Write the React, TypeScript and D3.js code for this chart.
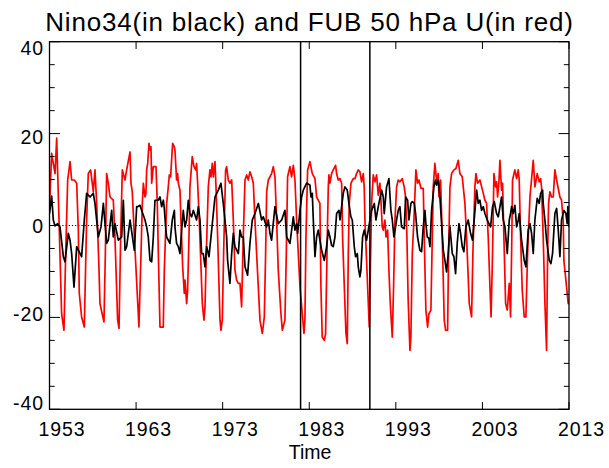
import React from "react";
import * as d3 from "d3";

// ---------- data ----------
const title = "Nino34(in black) and FUB 50 hPa U(in red)";
const xLabel = "Time";
const xTickYears = [1953, 1963, 1973, 1983, 1993, 2003, 2013];
const yMajorTicks = [-40, -20, 0, 20, 40];
const yMinorTicks = [-35, -30, -25, -15, -10, -5, 5, 10, 15, 25, 30, 35];
const markerYears = [1982, 1990];

// FUB 50 hPa zonal wind (red): [year, m/s]
const fubU_1953: [number, number][] = [
  [1953.0, 4.1], [1953.25, 15.7], [1953.44, 13.5], [1953.64, 11.3], [1953.83, 19.0], [1954.1, 1.2],
  [1954.4, -19.2], [1954.67, -22.8], [1954.87, -6.1], [1955.1, 9.9], [1955.37, 13.9], [1955.56, 9.9],
  [1955.87, 9.9], [1956.14, 9.2], [1956.33, -1], [1956.44, -14.8], [1956.71, -19.9], [1957.02, -22.1],
  [1957.29, 1.2], [1957.48, 11.3], [1957.75, 12.1], [1958.06, 7.3], [1958.25, 12.1], [1958.45, 4.8],
  [1958.72, -9.7], [1958.83, -17], [1959.29, -21], [1959.45, -6.1], [1959.6, 11.3], [1959.79, 9.2],
  [1959.99, 6.2], [1960.37, 5.5], [1960.56, -2.5], [1960.87, -20.6], [1961.03, -22.4], [1961.22, -2.5],
  [1961.41, 12.1], [1961.72, 9.9], [1961.91, 12.1], [1962.3, 16], [1962.41, 9.2], [1962.56, 7.3],
  [1962.87, -5],
];
const fubU_1963: [number, number][] = [
  [1963.33, -22.1], [1963.57, -6.1], [1963.72, 4.8], [1963.84, 9.2], [1964.03, 6.2], [1964.14, 7],
  [1964.22, 12.1], [1964.34, 13.5], [1964.49, 17.9], [1964.61, 16.4], [1964.72, 17.1], [1964.8, 9.2],
  [1964.99, 12.8], [1965.3, 12.8], [1965.45, 4.8], [1965.57, -6.1], [1965.76, -22.1], [1966.14, -22.1],
  [1966.26, -9.7], [1966.53, 4.8], [1966.72, 8.4], [1966.84, 11], [1966.99, 10.6], [1967.22, 17.9],
  [1967.42, 17.1], [1967.49, 16.4], [1967.68, 9.9], [1967.8, 11.3], [1967.88, 9.2], [1968.07, 7.7],
  [1968.18, 1.2], [1968.38, -9], [1968.57, -14.8], [1968.65, -11.9], [1968.84, -17], [1968.95, -14.1],
  [1969.11, -2.5], [1969.22, 8.4], [1969.49, 15], [1969.69, 12.8], [1969.88, 12.1], [1969.99, 13.5],
  [1970.11, 9.2], [1970.3, 1.2], [1970.65, -17], [1970.84, -20.6], [1970.96, -17.7], [1971.11, -6.1],
  [1971.34, 8.4], [1971.53, 12.1], [1971.65, 10.6], [1971.8, 13.5], [1971.92, 10.6], [1972.11, 13.9],
  [1972.23, 8.4], [1972.42, -2.5], [1972.69, -20.6], [1972.8, -22.8], [1972.96, -20.6], [1973.11, -6.1],
];
const fubU_1973: [number, number][] = [
  [1973.34, 12.1], [1973.46, 12.8], [1973.65, 9.9], [1973.84, 9.2], [1974.04, 9.9], [1974.23, 1.2],
  [1974.42, -9.7], [1974.61, -11.9], [1974.81, -12.6], [1975.0, -12.6], [1975.19, -17.7], [1975.38, -2.5],
  [1975.58, 9.9], [1975.77, 11], [1975.96, 9.9], [1976.15, 11.7], [1976.35, 10.6], [1976.54, 9.2],
  [1976.73, 1.2], [1976.92, -6.1], [1977.31, -20.6], [1977.58, -23.5], [1977.81, -19.9], [1977.96, -6.1],
  [1978.08, 7.3], [1978.27, 9.9], [1978.65, 11.3], [1978.85, 12.8], [1979.04, 10.6], [1979.23, 1.2],
  [1979.42, -9.7], [1979.73, -19.2], [1979.89, -22.8], [1980.19, -20.6], [1980.35, -6.1], [1980.5, 10.6],
  [1980.77, 12.8], [1980.96, 10.6], [1981.16, 13.1], [1981.35, 9.9], [1981.54, 1.2], [1981.93, -13.4],
  [1982.39, -23.5], [1982.5, -20.6], [1982.62, -2.5], [1982.81, 12.1], [1983.08, 13.9], [1983.35, 11.3],
];
const fubU_1983: [number, number][] = [
  [1983.66, 10.2], [1983.85, 6.2], [1984.04, 5.5], [1984.23, 4.8], [1984.35, -13.4], [1984.5, -24.3],
  [1984.74, -25], [1984.89, -23.5], [1985.12, 1.2], [1985.2, 8.4], [1985.27, 11], [1985.39, 9.2],
  [1985.58, 11.3], [1985.77, 12.1], [1986.04, 13.1], [1986.16, 11.3], [1986.35, 9.9], [1986.54, 10.2],
  [1986.74, 9.2], [1986.85, -2.5], [1987.05, -13.4], [1987.24, -23.5], [1987.39, -25.7], [1987.51, -6.1],
  [1987.62, 4.8], [1987.82, 9.2], [1988.08, 10.2], [1988.28, 10.2], [1988.47, 11.3], [1988.66, 12.1],
  [1988.85, 11.7], [1989.05, 9.5], [1989.24, 11.3], [1989.35, 8.4], [1989.43, 1.2], [1989.62, -7.6],
  [1989.93, -22.1], [1990.09, -6.1], [1990.2, 4.8], [1990.39, 11], [1990.59, 9.5], [1990.78, 11],
  [1990.97, 6.6], [1991.16, 9.2], [1991.28, 5.5], [1991.43, -0.3], [1991.55, -1], [1991.74, 1.2],
  [1991.86, -2.5], [1992.05, -1], [1992.2, -9.7], [1992.36, -17], [1992.59, -24.3], [1992.74, -13.4],
  [1992.9, 1.2], [1993.09, 8.4], [1993.28, 9.9], [1993.47, 9.5], [1993.74, 10.2], [1993.97, 8.4],
  [1994.13, 6.2], [1994.28, -2.5],
];
const fubU_1994: [number, number][] = [
  [1994.42, -16], [1994.63, -27.2], [1994.74, -24.3], [1994.9, -6.1], [1995.09, 1.2], [1995.32, 12.1],
  [1995.51, 9.2], [1995.67, 9.9], [1995.9, 8.1], [1996.17, 8.1], [1996.28, -2.5], [1996.47, -18.4],
  [1996.67, -22.1], [1996.82, -19.2], [1997.05, -18.4], [1997.21, -2.5], [1997.32, 8.4], [1997.51, 13.5],
  [1997.71, 9.9], [1997.9, 11.3], [1997.98, 6.2], [1998.17, 9.9], [1998.36, -2.5], [1998.59, -20.6],
  [1998.75, -22.8], [1998.98, -22.8], [1999.09, -6.1], [1999.25, 8.4], [1999.44, 11.3], [1999.71, 12.1],
  [1999.94, 12.4], [2000.21, 14.2], [2000.4, 11.3], [2000.67, 10.6], [2000.98, 4.8], [2001.17, -2.5],
  [2001.48, -17], [2001.75, -19.9], [2001.9, -6.1], [2002.13, 8.4], [2002.25, 11.3], [2002.44, 9.2],
  [2002.71, 9.9], [2003.1, 7], [2003.29, 5.5], [2003.48, 4.8], [2003.67, -2.5], [2003.87, -13.4],
  [2004.0, -19.9],
];
const fubU_2004: [number, number][] = [
  [2004.17, -6.1], [2004.33, 11.3], [2004.52, 8.4], [2004.64, 9.5], [2004.75, 6.2], [2004.9, 9.2],
  [2005.02, 14.2], [2005.21, 7.7], [2005.33, 9.2], [2005.48, -2.5], [2005.68, -17], [2005.87, -18.4],
  [2006.1, -12.6], [2006.25, -19.9], [2006.37, -6.1], [2006.48, 9.9], [2006.75, 12.1], [2006.95, 10.2],
  [2007.14, 12.1], [2007.25, 9.9], [2007.41, -2.5], [2007.6, -14.1], [2007.83, -19.9], [2008.02, -19.9],
  [2008.22, -6.1], [2008.49, 6.2], [2008.87, 14.2], [2009.06, 8.4], [2009.33, 11.3], [2009.56, 9.5],
  [2009.72, 10.2], [2009.83, 8.4], [2010.02, -2.5], [2010.22, -17], [2010.41, -27.2], [2010.53, -6.1],
  [2010.64, 4.8], [2010.79, 7.3], [2010.99, 6.2], [2011.18, 6.2], [2011.37, 12.1], [2011.57, 9.9],
  [2011.95, 6.2], [2012.14, 5.5], [2012.33, 1.2], [2012.41, -7.6], [2012.64, -11.9], [2012.91, -17],
  [2013.0, -16.5],
];

// Nino34 index, scaled (black): [year, value]
const nino_1953: [number, number][] = [
  [1953.0, 2.6], [1953.25, 6.4], [1953.44, 1.2], [1953.64, -0.1], [1953.94, 0.4], [1954.21, -0.3],
  [1954.6, -6.8], [1954.79, -7.9], [1955.17, -1.7], [1955.37, -3.2], [1955.56, -6.1], [1955.83, -13.4],
  [1956.14, -4.6], [1956.71, -6.8], [1957.02, 1.2], [1957.29, 7], [1957.68, 6.2], [1958.06, 7],
  [1958.25, 4.8], [1958.64, -2.5], [1958.95, -0.3], [1959.22, 4.8], [1959.6, -3.9], [1959.79, -3.2],
  [1960.18, 3.3], [1960.37, -2.5], [1960.56, 0.4], [1960.95, -3.2], [1961.33, -2.5], [1961.53, 5.5],
  [1961.72, -5.4], [1961.91, -4.6], [1962.3, 1.2], [1962.8, -5.4], [1963.07, 4.1],
];
const nino_1963: [number, number][] = [
  [1963.18, 4.1], [1963.45, 4.4], [1963.64, 3.3], [1964.03, 1.2], [1964.22, -0.3], [1964.41, -2.5],
  [1964.61, -7.6], [1964.8, -7.9], [1964.99, -2.5], [1965.18, 5.5], [1965.57, 5.5], [1965.76, 6.2],
  [1965.95, 4.1], [1966.15, 5.5], [1966.26, 3.7], [1966.41, -0.3], [1966.53, -2.5], [1966.91, -3.9],
  [1967.18, 1.2], [1967.42, 3.3], [1967.49, -0.3], [1967.68, -3.9], [1967.88, -4.6], [1968.07, -6.1],
  [1968.26, -1], [1968.45, 3.3], [1968.65, -0.3], [1968.84, 1.2], [1969.03, 5.5], [1969.22, 2.6],
  [1969.42, 1.9], [1969.61, 3.3], [1969.99, 1.2], [1970.19, 4.1], [1970.38, 1.2], [1970.57, -6.1],
  [1970.76, -6.1], [1970.96, -9], [1971.15, -4.6], [1971.42, -6.8], [1971.73, -1], [1972.11, 6.2],
  [1972.5, 7.7], [1972.8, 9.2], [1973.07, 4.8],
];
const nino_1973: [number, number][] = [
  [1973.46, -2.5], [1973.57, -7.6], [1973.84, -12.6], [1974.04, -6.1], [1974.23, -1.7], [1974.42, -4.6],
  [1974.81, -6.1], [1975.0, -1], [1975.19, -2.5], [1975.38, -2.5], [1975.58, -9], [1975.88, -10.8],
  [1976.15, -3.9], [1976.42, 1.2], [1976.73, 2.6], [1977.12, 4.8], [1977.5, 1.2], [1977.69, 1.9],
  [1978.08, -0.3], [1978.27, 1.2], [1978.46, -1.7], [1978.65, -3.2], [1979.04, 4.1], [1979.42, 0.4],
  [1979.81, 1.2], [1980.19, 3.3], [1980.39, -2.5], [1980.77, -3.9], [1981.16, 1.9], [1981.35, -1],
  [1981.54, 0.4], [1981.66, -1.7], [1981.93, 3.3], [1982.12, 6.2], [1982.31, 7.7], [1982.7, 9.2],
  [1983.08, 8.8], [1983.2, 6.2], [1983.35, 7], [1983.47, 1.2],
];
const nino_1983: [number, number][] = [
  [1983.66, -6.8], [1983.85, -2.5], [1984.04, -1], [1984.43, -5.4], [1984.74, -7.6], [1985.0, -4.6],
  [1985.2, -1], [1985.39, -2.5], [1985.58, -4.3], [1985.77, -4.6], [1985.97, -2.5], [1986.16, 2.6],
  [1986.43, 3.3], [1986.55, 1.2], [1986.74, 4.1], [1986.93, 7], [1987.12, 8.4], [1987.39, 7.7],
  [1987.58, 4.8], [1987.81, 1.9], [1987.97, 1.2], [1988.2, -4.6], [1988.35, -6.8], [1988.55, -6.1],
  [1988.66, -9], [1988.85, -11.2], [1988.97, -9.7], [1989.16, -2.5], [1989.35, -1], [1989.62, -3.2],
  [1989.82, -1], [1990.01, 1.2], [1990.2, 3.3], [1990.51, 4.8], [1990.7, 1.2], [1990.97, 4.1],
  [1991.36, 7.7], [1991.55, 6.2], [1991.66, 2.6], [1991.93, 8.4], [1992.2, 10.2], [1992.43, 3.3],
  [1992.59, 1.2], [1992.78, -2.5], [1993.09, 1.2], [1993.28, 3.3], [1993.47, 4.1], [1993.66, -0.3],
  [1993.97, -0.7], [1994.13, 6.2], [1994.36, 5.5],
];
const nino_1994: [number, number][] = [
  [1994.51, 1.2], [1994.74, 4.8], [1994.9, 5.2], [1995.13, 4.8], [1995.28, 2.6], [1995.51, -2.5],
  [1995.78, -5.4], [1995.97, -5.7], [1996.17, -0.3], [1996.36, 3.3], [1996.47, 0.4], [1996.63, -2.5],
  [1996.82, -2.8], [1996.94, -4.6], [1997.13, 3.3], [1997.4, 8.4], [1997.59, 9.9], [1997.71, 8.8],
  [1997.9, 9.9], [1998.09, 6.2], [1998.48, -5.4], [1998.67, -7.6], [1998.86, -10.1], [1999.05, -6.1],
  [1999.25, -0.3], [1999.52, -6.1], [1999.71, -6.8], [1999.9, -10.5], [2000.09, -3.9], [2000.29, 0.4],
  [2000.48, -1.7], [2000.67, -4.6], [2000.86, -5.7], [2001.09, -0.3], [2001.36, 1.2], [2001.63, -1.7],
  [2001.86, -3.2], [2002.33, 7.7], [2002.52, 4.8], [2002.71, 5.5], [2002.9, 3.3], [2003.1, 4.1],
  [2003.29, 2.6], [2003.56, 1.2], [2003.75, 0.4], [2003.94, -0.3],
];
const nino_2004: [number, number][] = [
  [2004.17, 4.1], [2004.37, 5.2], [2004.64, 2.6], [2004.83, 1.9], [2005.21, 6.2], [2005.41, 1.2],
  [2005.6, -0.3], [2005.87, -6.1], [2006.1, 1.2], [2006.25, 2.6], [2006.37, 4.1], [2006.56, 2.6],
  [2006.75, 4.4], [2006.95, -0.3], [2007.14, 1.2], [2007.25, 2.6], [2007.52, -3.2], [2007.83, -7.6],
  [2008.02, -9], [2008.29, -1], [2008.49, 0.4], [2008.68, -1.7], [2008.87, -6.1], [2009.06, 1.2],
  [2009.33, 5.9], [2009.56, 4.8], [2009.72, 7], [2009.95, 7.7], [2010.02, 4.8], [2010.22, 1.2],
  [2010.41, -3.2], [2010.72, -7.6], [2010.91, -8.3], [2011.1, -6.1], [2011.37, 2.6], [2011.57, 3.7],
  [2011.76, -1], [2011.95, -6.8], [2012.14, 1.2], [2012.41, 3.3], [2012.64, 2.6], [2012.79, 0.4],
  [2012.87, 4.1], [2012.99, -0.3],
];

const fubU = [...fubU_1953, ...fubU_1963, ...fubU_1973, ...fubU_1983, ...fubU_1994, ...fubU_2004];
const nino34 = [...nino_1953, ...nino_1963, ...nino_1973, ...nino_1983, ...nino_1994, ...nino_2004];

// ---------- layout ----------
const W = 609;
const H = 468;
const plot = { left: 49.5, right: 569, top: 41.7, bottom: 409.3 };
const FONT = "'Liberation Sans', Arial, Helvetica, sans-serif";

export default function App() {
  const x = d3.scaleLinear().domain([1953, 2013]).range([plot.left, plot.right]);
  const y = d3.scaleLinear().domain([-40, 40]).range([plot.bottom, plot.top]);
  const line = d3
    .line<[number, number]>()
    .x((d) => x(d[0]))
    .y((d) => y(d[1]));

  const majX = 7.3;
  const majY = 10.4;
  const minY = 5.2;

  return (
    <svg
      width={W}
      height={H}
      style={{ position: "absolute", left: 0, top: 0, background: "#fff" }}
      fontFamily={FONT}
    >
      <rect x={0} y={0} width={W} height={H} fill="#fff" />
      <defs>
        <clipPath id="plotClip">
          <rect x={plot.left} y={plot.top} width={plot.right - plot.left} height={plot.bottom - plot.top} />
        </clipPath>
      </defs>

      {/* zero dotted line */}
      <line
        x1={plot.left}
        x2={plot.right}
        y1={y(0)}
        y2={y(0)}
        stroke="#000"
        strokeWidth={1.2}
        strokeDasharray="1.2 2"
      />

      <g clipPath="url(#plotClip)">
        <path d={line(fubU) || ""} fill="none" stroke="#ff0000" strokeWidth={1.7} strokeLinejoin="round" />
        <path d={line(nino34) || ""} fill="none" stroke="#000" strokeWidth={1.7} strokeLinejoin="round" />
      </g>

      {/* marker lines */}
      {markerYears.map((yr) => (
        <line key={yr} x1={x(yr)} x2={x(yr)} y1={plot.top} y2={plot.bottom} stroke="#000" strokeWidth={1.5} />
      ))}

      {/* frame */}
      <rect
        x={plot.left}
        y={plot.top}
        width={plot.right - plot.left}
        height={plot.bottom - plot.top}
        fill="none"
        stroke="#000"
        strokeWidth={1.3}
      />

      {/* x ticks */}
      {xTickYears.map((t) => (
        <g key={"xt" + t}>
          <line x1={x(t)} x2={x(t)} y1={plot.bottom} y2={plot.bottom - majX} stroke="#000" strokeWidth={1} />
          <line x1={x(t)} x2={x(t)} y1={plot.top} y2={plot.top + majX} stroke="#000" strokeWidth={1} />
          <text
            x={x(t) + 12.5}
            y={435.7}
            textAnchor="middle"
            fontSize={19.5}
            letterSpacing={0.9}
            fill="#000"
          >
            {t}
          </text>
        </g>
      ))}

      {/* y ticks */}
      {yMajorTicks.map((v) => (
        <g key={"yt" + v}>
          <line x1={plot.left} x2={plot.left + majY} y1={y(v)} y2={y(v)} stroke="#000" strokeWidth={1} />
          <line x1={plot.right} x2={plot.right - majY} y1={y(v)} y2={y(v)} stroke="#000" strokeWidth={1} />
          <text
            x={44}
            y={y(v) + 7 + 6.3 * (v / 40)}
            textAnchor="end"
            fontSize={19.5}
            letterSpacing={0.9}
            fill="#000"
          >
            {v}
          </text>
        </g>
      ))}
      {yMinorTicks.map((v) => (
        <g key={"ym" + v}>
          <line x1={plot.left} x2={plot.left + minY} y1={y(v)} y2={y(v)} stroke="#000" strokeWidth={1} />
          <line x1={plot.right} x2={plot.right - minY} y1={y(v)} y2={y(v)} stroke="#000" strokeWidth={1} />
        </g>
      ))}

      {/* title & axis label */}
      <text x={309.5} y={31} textAnchor="middle" fontSize={26} letterSpacing={0.8} fill="#000">
        {title}
      </text>
      <text x={310} y={459} textAnchor="middle" fontSize={19.5} fill="#000">
        {xLabel}
      </text>
    </svg>
  );
}
